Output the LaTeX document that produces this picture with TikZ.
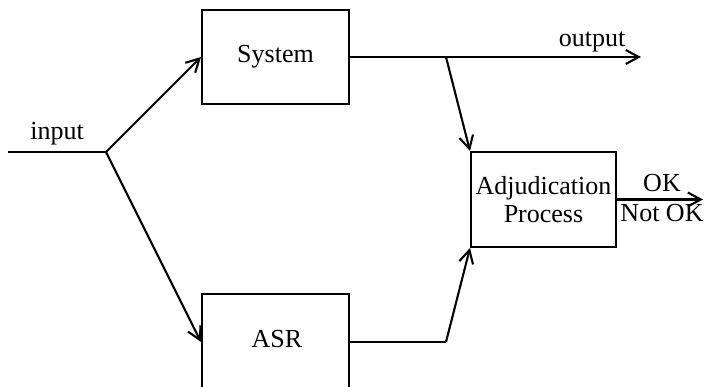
\documentclass[tikz,border=0pt]{standalone}
\usepackage{fontspec}
\setmainfont{Liberation Serif}
\usetikzlibrary{arrows.meta,calc}
\begin{document}
\begin{tikzpicture}[x=1pt,y=-1pt,
  every node/.style={font=\fontsize{26}{28}\selectfont},
  box/.style={draw,line width=2pt,rectangle,inner sep=0pt},
  conn/.style={line width=2.1pt},
  arr/.style={conn,-{Straight Barb[length=13pt,width=14pt,line width=2.1pt]}},
  lbl/.style={anchor=base,inner sep=0pt}]
\useasboundingbox (0,0) rectangle (704,387);
\clip (0,0) rectangle (704,387);
\node[box,minimum width=147pt,minimum height=94pt] (sys) at (275.5,57) {System};
\node[box,minimum width=147pt,minimum height=96pt] (asr) at (275.5,342) {};
\node[lbl] (asrlbl) at (277,347) {ASR};
\node[box,minimum width=145pt,minimum height=95pt,align=center] (adj) at (543.5,199.5) {Adjudication\\Process};
\coordinate (in) at (8,152);
\coordinate (br) at (106,152);
\coordinate (sbr) at (446,57);
\coordinate (abr) at (446,342);
\coordinate (out) at (641,57);
\coordinate (res) at (703,199.5);
\draw[conn] (in) -- (br);
\draw[arr] (br) -- (sys.west);
\draw[arr] (br) -- (asr.west);
\draw[arr] (sys.east) -- (out);
\draw[arr] (sbr) -- (adj.north west);
\draw[conn] (asr.east) -- (abr);
\draw[arr] (abr) -- (adj.south west);
\draw[arr] (adj.east) -- (res);
\node[lbl] (inlbl) at (57,140) {input};
\node[lbl] (outlbl) at (592,47) {output};
\node[lbl] (oklbl) at (662,192) {OK};
\node[lbl] (noklbl) at (662,222) {Not OK};
\end{tikzpicture}
\end{document}
